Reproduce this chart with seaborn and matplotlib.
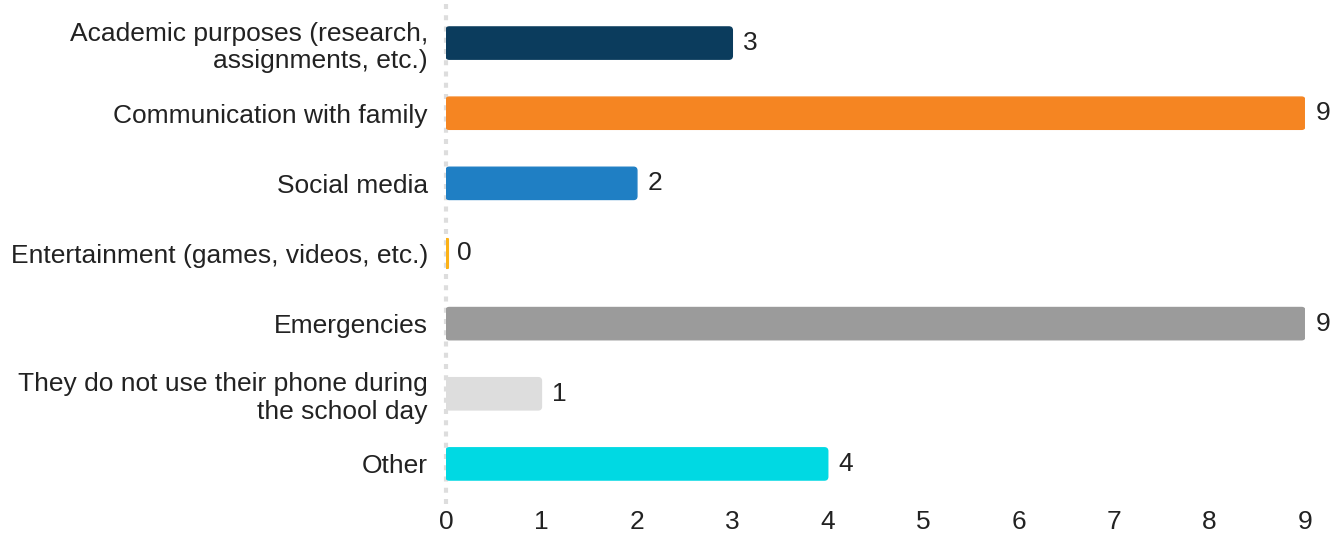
import matplotlib
matplotlib.use("Agg")
import matplotlib.pyplot as plt
import seaborn as sns
import pandas as pd
from matplotlib.patches import FancyBboxPatch, Rectangle

categorias = [
    "Academic purposes (research,\nassignments, etc.)",
    "Communication with family",
    "Social media",
    "Entertainment (games, videos, etc.)",
    "Emergencies",
    "They do not use their phone during\nthe school day",
    "Other",
]
valores = [3, 9, 2, 0, 9, 1, 4]
colores = ["#0b3c5d", "#f58522", "#1f7fc4", "#fbb117", "#9b9b9b", "#dddddd", "#00d9e3"]

df = pd.DataFrame({"categoria": categorias, "valor": valores})

sns.set_style("white")
plt.rcParams["font.family"] = ["Liberation Sans", "DejaVu Sans"]

fig = plt.figure(figsize=(13.41, 5.33), dpi=100)
ax = fig.add_axes([0.3326, 0.0638, 0.6405, 0.9212])

sns.barplot(data=df, x="valor", y="categoria", hue="categoria", palette=colores,
            legend=False, width=0.46, saturation=1, ax=ax)

# reemplazar barras por rectangulos redondeados
for p in list(ax.patches):
    x0, y0 = p.get_x(), p.get_y()
    w, h = p.get_width(), p.get_height()
    c = p.get_facecolor()
    p.remove()
    if w <= 0:
        caja = Rectangle((x0, y0 + 0.02), 0.02, h - 0.04, facecolor=c, edgecolor=c,
                         linewidth=1.5, joinstyle="round")
    else:
        caja = FancyBboxPatch((x0, y0), w, h,
                              boxstyle="round,pad=0,rounding_size=0.035",
                              mutation_aspect=1.35,
                              facecolor=c, edgecolor=c, linewidth=1.0)
    ax.add_patch(caja)

for i, v in enumerate(valores):
    ax.text(v + 0.11, i, str(v), va="center", ha="left", fontsize=19, color="#222222")

ax.set_xlim(0, 9)
ax.set_ylim(6.5, -0.5)
ax.set_xticks(range(10))
ax.set_xlabel("")
ax.set_ylabel("")
ax.tick_params(axis="both", length=0, labelsize=19, colors="#222222")
ax.tick_params(axis="y", pad=13)
ax.tick_params(axis="x", pad=8)
for s in ax.spines.values():
    s.set_visible(False)
ax.axvline(0, color="#dddddd", linestyle=(0, (1.2, 1.5)), linewidth=3, zorder=0,
           ymin=-0.01, ymax=1.02, clip_on=False)

fig.savefig("out.png", dpi=100)
